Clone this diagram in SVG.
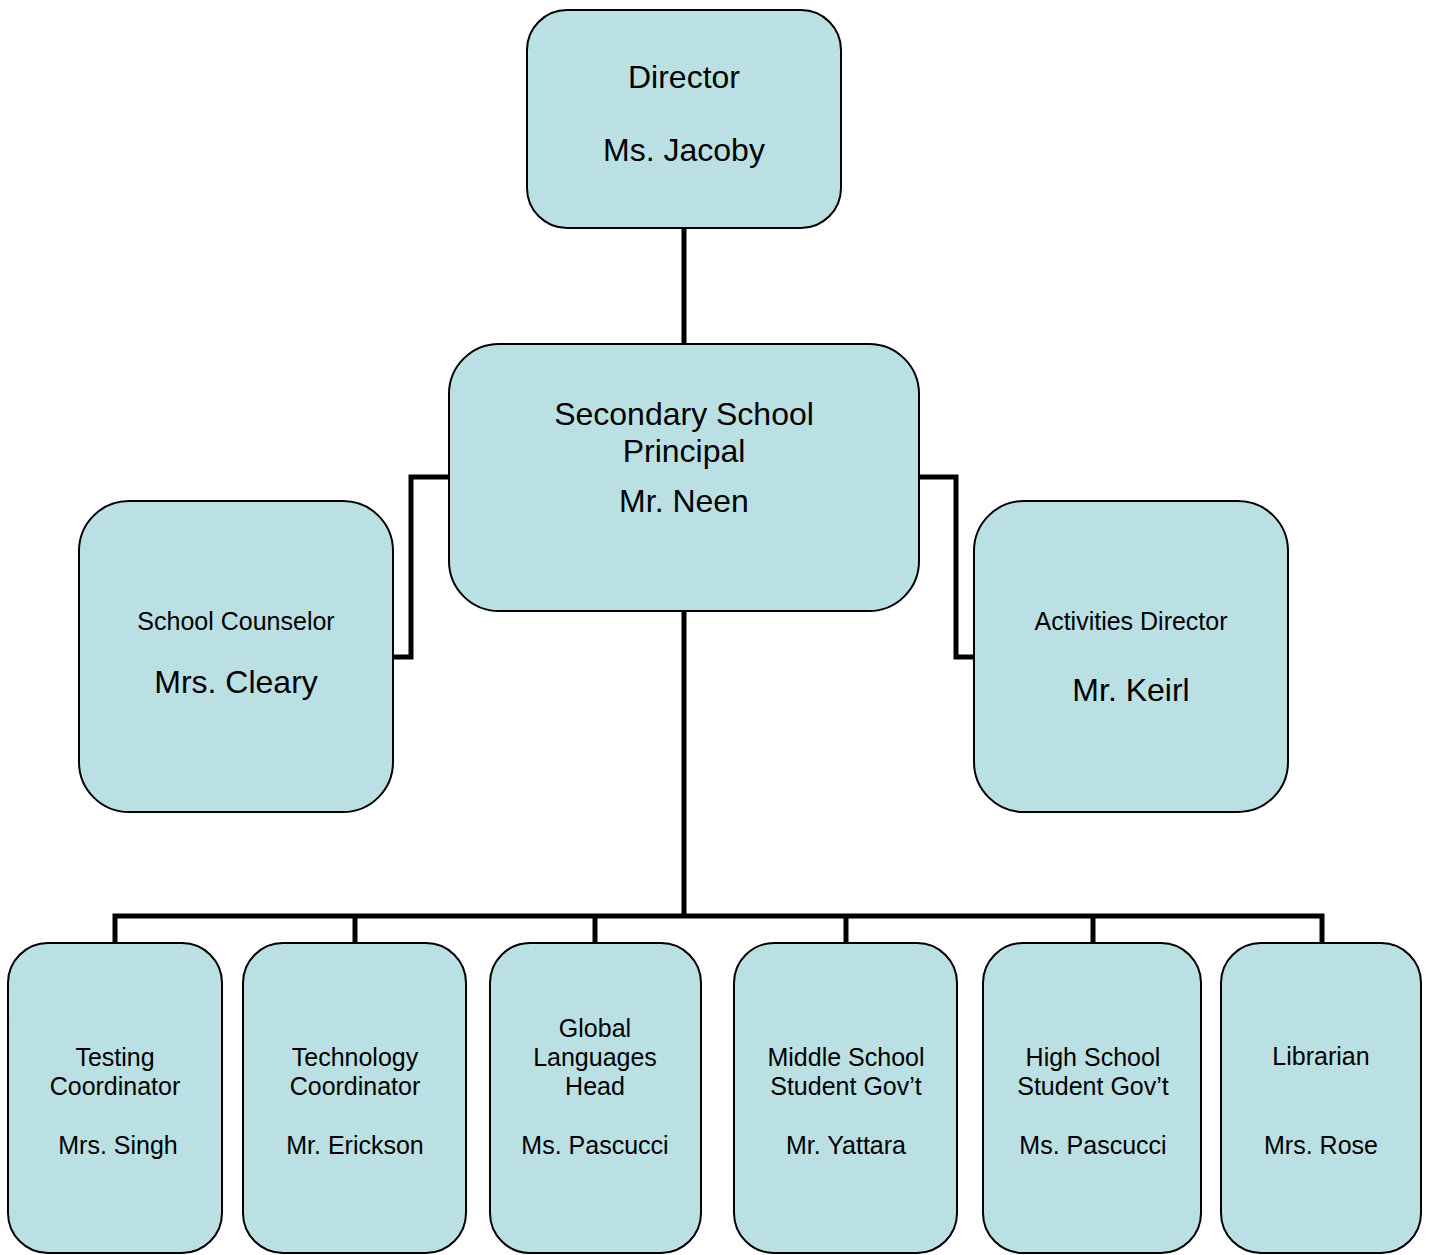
<svg xmlns="http://www.w3.org/2000/svg" width="1433" height="1255" viewBox="0 0 1433 1255">
<style>
.box{fill:#BAE0E3;stroke:#000;stroke-width:2}
.con{fill:none;stroke:#000;stroke-width:5;stroke-linejoin:miter;stroke-linecap:butt}
text{font-family:"Liberation Sans",Arial,sans-serif;fill:#000;text-anchor:middle}
.l{font-size:32px}
.m{font-size:32px}
.s{font-size:25px}
</style>
<rect width="1433" height="1255" fill="#fff"/>
<g id="connectors">
<path class="con" d="M684 228V344"/>
<path class="con" d="M449 477H411V657H393"/>
<path class="con" d="M919 477H956V657H974"/>
<path class="con" d="M684 611V916"/>
<path class="con" d="M115 943V916H1322V943"/>
<path class="con" d="M355 916V943M595 916V943M846 916V943M1093 916V943"/>
</g>
<g id="director">
<rect class="box" x="527" y="10" width="314" height="218" rx="40"/>
<text class="l" x="684" y="88">Director</text>
<text class="l" x="684" y="161">Ms. Jacoby</text>
</g>
<g id="principal">
<rect class="box" x="449" y="344" width="470" height="267" rx="50"/>
<text class="m" x="684" y="425">Secondary School</text>
<text class="m" x="684" y="462">Principal</text>
<text class="m" x="684" y="512">Mr. Neen</text>
</g>
<g id="counselor">
<rect class="box" x="79" y="501" width="314" height="311" rx="50"/>
<text class="s" x="236" y="630">School Counselor</text>
<text class="m" x="236" y="693">Mrs. Cleary</text>
</g>
<g id="activities">
<rect class="box" x="974" y="501" width="314" height="311" rx="50"/>
<text class="s" x="1131" y="630">Activities Director</text>
<text class="m" x="1131" y="701">Mr. Keirl</text>
</g>
<g id="testing">
<rect class="box" x="8" y="943" width="214" height="310" rx="40"/>
<text class="s" x="115" y="1066">Testing</text>
<text class="s" x="115" y="1095">Coordinator</text>
<text class="s" x="118" y="1154">Mrs. Singh</text>
</g>
<g id="technology">
<rect class="box" x="243" y="943" width="223" height="310" rx="40"/>
<text class="s" x="355" y="1066">Technology</text>
<text class="s" x="355" y="1095">Coordinator</text>
<text class="s" x="355" y="1154">Mr. Erickson</text>
</g>
<g id="languages">
<rect class="box" x="490" y="943" width="211" height="310" rx="40"/>
<text class="s" x="595" y="1037">Global</text>
<text class="s" x="595" y="1066">Languages</text>
<text class="s" x="595" y="1095">Head</text>
<text class="s" x="595" y="1154">Ms. Pascucci</text>
</g>
<g id="middle">
<rect class="box" x="734" y="943" width="223" height="310" rx="40"/>
<text class="s" x="846" y="1066">Middle School</text>
<text class="s" x="846" y="1095">Student Gov’t</text>
<text class="s" x="846" y="1154">Mr. Yattara</text>
</g>
<g id="high">
<rect class="box" x="983" y="943" width="218" height="310" rx="40"/>
<text class="s" x="1093" y="1066">High School</text>
<text class="s" x="1093" y="1095">Student Gov’t</text>
<text class="s" x="1093" y="1154">Ms. Pascucci</text>
</g>
<g id="librarian">
<rect class="box" x="1221" y="943" width="200" height="310" rx="40"/>
<text class="s" x="1321" y="1065">Librarian</text>
<text class="s" x="1321" y="1154">Mrs. Rose</text>
</g>
</svg>
